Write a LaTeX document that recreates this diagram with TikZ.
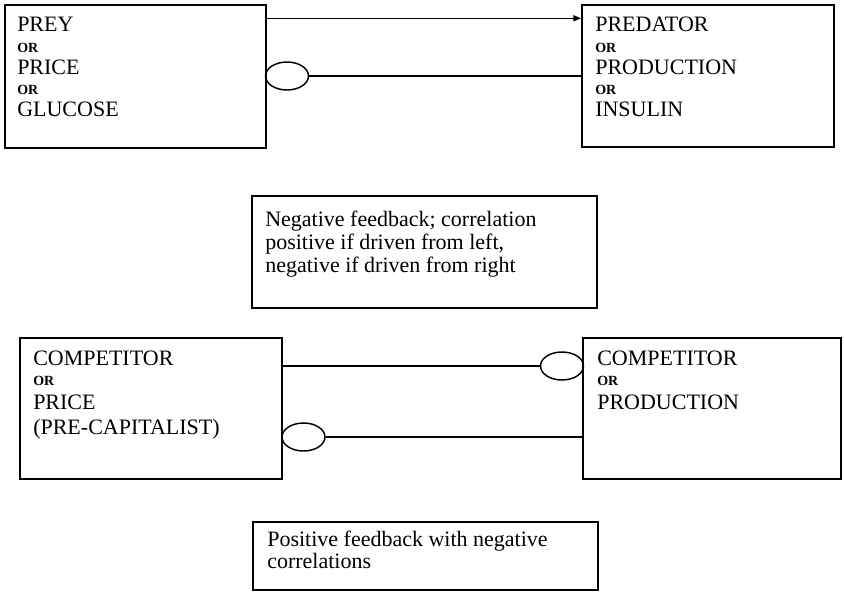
\documentclass[tikz,border=0pt]{standalone}
\usepackage{fontspec}
\setmainfont{Liberation Serif}
\usetikzlibrary{shapes.geometric,arrows.meta,fit,calc}

\begin{document}
\begin{tikzpicture}[x=0.75pt,y=-0.75pt,
  box/.style={draw, line width=1.1pt, inner sep=0pt},
  big/.style={anchor=base west, inner sep=0pt, font=\fontsize{16.5}{17.25}\selectfont},
  small/.style={anchor=base west, inner sep=0pt, font=\fontsize{10.5}{12}\selectfont\bfseries},
  loop/.style={draw, ellipse, line width=1.1pt, minimum width=32.25pt, minimum height=21pt, inner sep=0pt},
  link/.style={line width=1.1pt}]

\useasboundingbox (0,0) rectangle (844,594);

% ---- negative feedback pair ----
\node[box, fit={(5,5) (266,148)}] (prey) {};
\node[big]   (prey1) at (17,31)  {PREY};
\node[small] (prey2) at (17,52)  {OR};
\node[big]   (prey3) at (17,74)  {PRICE};
\node[small] (prey4) at (17,94)  {OR};
\node[big]   (prey5) at (17,116) {GLUCOSE};

\node[box, fit={(582,5) (834,147)}] (pred) {};
\node[big]   (pred1) at (595,31)  {PREDATOR};
\node[small] (pred2) at (595,52)  {OR};
\node[big]   (pred3) at (595,74)  {PRODUCTION};
\node[small] (pred4) at (595,94)  {OR};
\node[big]   (pred5) at (595,116) {INSULIN};

\draw[link, -{Triangle[length=6pt,width=4.5pt]}]
  ([yshift=-10.5pt]prey.north east) -- ([yshift=-10.5pt]pred.north west);
\node[loop] (inh1) at (287,76) {};
\draw[link] (inh1.east) -- (pred.west |- inh1.east);

\node[box, fit={(252,196) (597,308)}] (note1) {};
\node[big] (note1a) at (265,226) {Negative feedback; correlation};
\node[big] (note1b) at (265,249) {positive if driven from left,};
\node[big] (note1c) at (265,272) {negative if driven from right};

% ---- positive feedback pair ----
\node[box, fit={(20,338) (282,479)}] (compa) {};
\node[big]   (compa1) at (33,365) {COMPETITOR};
\node[small] (compa2) at (33,385) {OR};
\node[big]   (compa3) at (33,409) {PRICE};
\node[big]   (compa4) at (33,434) {(PRE-CAPITALIST)};

\node[box, fit={(583,338) (841,479)}] (compb) {};
\node[big]   (compb1) at (597,365) {COMPETITOR};
\node[small] (compb2) at (597,385) {OR};
\node[big]   (compb3) at (597,409) {PRODUCTION};

\node[loop] (inh2) at (562,366) {};
\draw[link] (compa.east |- inh2.west) -- (inh2.west);
\node[loop] (inh3) at (303.5,437) {};
\draw[link] (inh3.east) -- (compb.west |- inh3.east);

\node[box, fit={(253,522) (598,590)}] (note2) {};
\node[big] (note2a) at (267,546) {Positive feedback with negative};
\node[big] (note2b) at (267,568) {correlations};

\end{tikzpicture}
\end{document}
